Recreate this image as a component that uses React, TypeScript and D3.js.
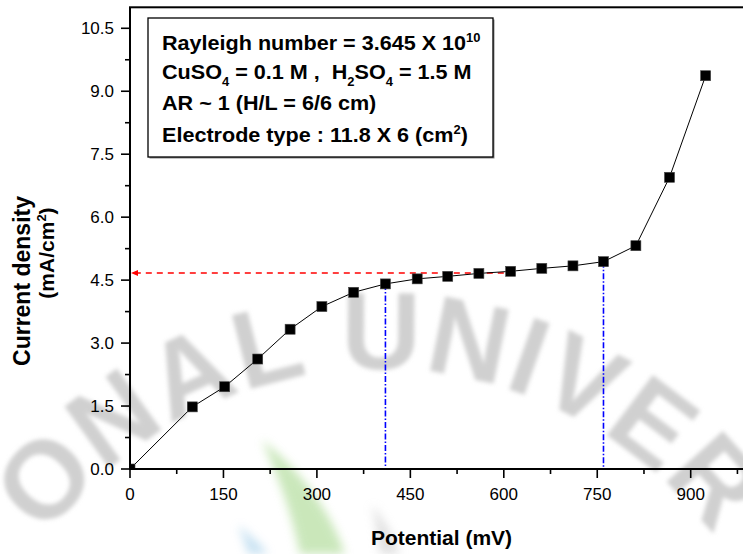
import React from 'react';
import * as d3 from 'd3';

// Polarization curve: limiting current plateau
const potential = [0, 100, 152, 205, 257, 308, 359, 410, 461, 510, 560, 611, 661, 711, 760, 812, 866, 924];
const currentDensity = [0, 1.48, 1.96, 2.62, 3.33, 3.87, 4.21, 4.41, 4.53, 4.59, 4.66, 4.71, 4.78, 4.84, 4.94, 5.32, 6.95, 9.37];

const xTicks = [0, 150, 300, 450, 600, 750, 900];
const xTickLabels = ['0', '150', '300', '450', '600', '750', '900'];
const yTicks = [0, 1.5, 3, 4.5, 6, 7.5, 9, 10.5];
const yTickLabels = ['0.0', '1.5', '3.0', '4.5', '6.0', '7.5', '9.0', '10.5'];

// Limiting current read-off and plateau bounds
const limitingCurrent = 4.67;
const limitingReadFrom = 600;
const plateauBounds = [410, 760];

const FONT = '"Liberation Sans", Arial, Helvetica, sans-serif';
const W = 743;
const H = 554;

export default function App() {
  const x = d3.scaleLinear().domain([0, 1000]).range([130, 753]);
  const y = d3.scaleLinear().domain([0, 11]).range([469, 7.3]);

  const line = d3
    .line<number>()
    .x((_, i) => x(potential[i]))
    .y((d) => y(d));

  const xMinor = d3.range(75, 1000, 150);
  const yMinor = d3.range(0.75, 11, 1.5);

  const ms = 10;
  const x0 = x.range()[0];
  const x1 = x.range()[1];
  const y0 = y.range()[0];
  const y1 = y.range()[1];

  const arrowX = x(0);
  const arrowY = y(limitingCurrent);
  const nb = '\u00a0';

  return (
    <svg
      width={W}
      height={H}
      style={{ position: 'absolute', left: 0, top: 0, background: '#fff' }}
      fontFamily={FONT}
    >
      <defs>
        <clipPath id="plot-clip">
          <rect x={x0} y={y1} width={x1 - x0} height={y0 - y1} />
        </clipPath>
        <clipPath id="page-clip">
          <rect x={0} y={0} width={W} height={H} />
        </clipPath>
        <filter id="soft" x="-10%" y="-10%" width="120%" height="120%">
          <feGaussianBlur stdDeviation="2.2" />
        </filter>
        <filter id="softer" x="-20%" y="-20%" width="140%" height="140%">
          <feGaussianBlur stdDeviation="5" />
        </filter>
        <path id="wm-arc" d="M -36 785 A 416 416 0 0 1 796 785" />
      </defs>

      {/* background watermark */}
      <g clipPath="url(#page-clip)">
        <g filter="url(#softer)" opacity={0.55}>
          <path d="M 262 440 C 300 470 330 510 345 554 L 300 554 C 292 515 280 480 262 440 Z" fill="#9fd483" />
          <path d="M 238 525 C 250 535 262 545 268 554 L 248 554 C 246 545 242 535 238 525 Z" fill="#9dcbe8" />
          <path d="M 372 505 C 385 520 395 540 400 554 L 380 554 C 378 540 376 522 372 505 Z" fill="#c9c9c9" />
        </g>
        <g filter="url(#soft)">
          <text fontSize={110} fontWeight="bold" fill="#d0d0d0" letterSpacing={2} fontFamily={FONT}>
            <textPath href="#wm-arc" startOffset="50%" textAnchor="middle">
              ONAL UNIVER
            </textPath>
          </text>
        </g>
      </g>

      {/* plateau guide lines */}
      <line
        x1={x(limitingReadFrom)}
        x2={arrowX + 6}
        y1={arrowY}
        y2={arrowY}
        stroke="#ff0000"
        strokeWidth={1.5}
        strokeDasharray="6 5"
      />
      <path
        d={`M ${arrowX + 1} ${arrowY} L ${arrowX + 8} ${arrowY - 3} L ${arrowX + 8} ${arrowY + 3} Z`}
        fill="#ff0000"
      />
      {plateauBounds.map((p) => {
        const v = currentDensity[potential.indexOf(p)];
        return (
          <line
            key={p}
            x1={x(p)}
            x2={x(p)}
            y1={y(v)}
            y2={y(0)}
            stroke="#0000ff"
            strokeWidth={1.6}
            strokeDasharray="6 2 1.5 2"
          />
        );
      })}

      {/* data */}
      <g clipPath="url(#plot-clip)">
        <path d={line(currentDensity) || ''} fill="none" stroke="#000" strokeWidth={1} />
        {currentDensity.map((v, i) => (
          <rect
            key={i}
            x={x(potential[i]) - ms / 2}
            y={y(v) - ms / 2}
            width={ms}
            height={ms}
            fill="#000"
            stroke="#444"
            strokeWidth={0.6}
          />
        ))}
      </g>

      {/* frame */}
      <rect x={x0} y={y1} width={x1 - x0} height={y0 - y1} fill="none" stroke="#000" strokeWidth={2} />

      {/* y axis ticks */}
      {yTicks.map((t, i) => (
        <g key={'yt' + t}>
          <line x1={x0 - 9} x2={x0} y1={y(t)} y2={y(t)} stroke="#000" strokeWidth={1.6} />
          <text x={x0 - 16} y={y(t)} dy="0.36em" textAnchor="end" fontSize={17} fill="#000">
            {yTickLabels[i]}
          </text>
        </g>
      ))}
      {yMinor.map((t) => (
        <line key={'ym' + t} x1={x0 - 5} x2={x0} y1={y(t)} y2={y(t)} stroke="#000" strokeWidth={1.6} />
      ))}

      {/* x axis ticks */}
      {xTicks.map((t, i) => (
        <g key={'xt' + t}>
          <line x1={x(t)} x2={x(t)} y1={y0} y2={y0 + 9} stroke="#000" strokeWidth={1.6} />
          <text x={x(t)} y={y0 + 31} textAnchor="middle" fontSize={17} fill="#000">
            {xTickLabels[i]}
          </text>
        </g>
      ))}
      {xMinor.map((t) => (
        <line key={'xm' + t} x1={x(t)} x2={x(t)} y1={y0} y2={y0 + 5} stroke="#000" strokeWidth={1.6} />
      ))}

      {/* axis titles */}
      <text x={(x0 + x1) / 2} y={545} textAnchor="middle" fontSize={21} fontWeight="bold" fill="#000">
        Potential (mV)
      </text>
      <text
        transform="translate(30,281) rotate(-90)"
        textAnchor="middle"
        fontSize={23}
        fontWeight="bold"
        fill="#000"
      >
        Current density
      </text>
      <text
        transform="translate(54,253) rotate(-90)"
        textAnchor="middle"
        fontSize={21}
        fontWeight="bold"
        fill="#000"
      >
        (mA/cm
        <tspan fontSize={13} dy={-8}>2</tspan>
        <tspan dy={8}>)</tspan>
      </text>

      {/* info box */}
      <rect x={149.5} y={19.5} width={345} height={139} fill="#888" />
      <rect x={148} y={18} width={345} height={139} fill="#fff" stroke="#000" strokeWidth={1.3} />
      <g
        fontSize={20}
        fontWeight="bold"
        fill="#000"
        transform="translate(162,0) scale(1.08,1) translate(-162,0)"
      >
        <text x={162} y={50}>
          Rayleigh number = 3.645 X 10
          <tspan fontSize={12} dy={-8}>10</tspan>
        </text>
        <text x={162} y={79}>
          CuSO<tspan fontSize={12} dy={7}>4</tspan>
          <tspan dy={-7}>{` = 0.1 M ,${nb}${nb}H`}</tspan>
          <tspan fontSize={12} dy={7}>2</tspan>
          <tspan dy={-7}>SO</tspan>
          <tspan fontSize={12} dy={7}>4</tspan>
          <tspan dy={-7}> = 1.5 M</tspan>
        </text>
        <text x={162} y={110}>AR ~ 1 (H/L = 6/6 cm)</text>
        <text x={162} y={142}>
          Electrode type : 11.8 X 6 (cm
          <tspan fontSize={12} dy={-8}>2</tspan>
          <tspan dy={8}>)</tspan>
        </text>
      </g>
    </svg>
  );
}
